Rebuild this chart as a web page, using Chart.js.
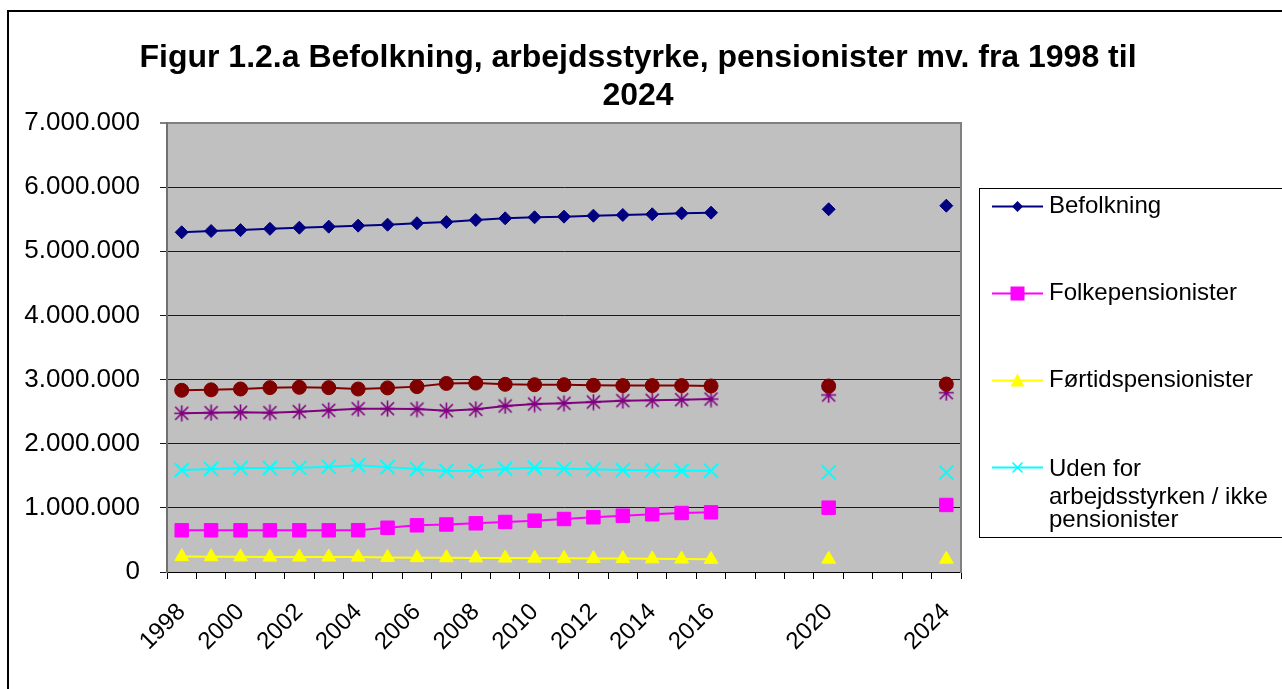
<!DOCTYPE html>
<html>
<head>
<meta charset="utf-8">
<style>
  html, body { margin: 0; padding: 0; background: #fff; }
  #wrap { width: 1282px; height: 689px; position: relative; }
</style>
<script src="https://cdn.jsdelivr.net/npm/chart.js"></script>
</head>
<body>
<div id="wrap"><canvas id="c" width="1282" height="689"></canvas></div>
<script>
// ---- DATA ----
const years = ['1998','1999','2000','2001','2002','2003','2004','2005','2006','2007','2008','2009','2010','2011','2012','2013','2014','2015','2016','2017','2018','2019','2020','2021','2022','2023','2024'];
const shownTicks = ['1998','2000','2002','2004','2006','2008','2010','2012','2014','2016','2020','2024'];
const yTicks = [0, 1000000, 2000000, 3000000, 4000000, 5000000, 6000000, 7000000];

const befolkning = [5296000, 5316000, 5330000, 5350000, 5368000, 5384000, 5400000, 5415000, 5437000, 5455000, 5488000, 5514000, 5530000, 5540000, 5555000, 5566000, 5577000, 5592000, 5602000, null, null, null, 5655000, null, null, null, 5711000];
const folkepensionister = [650000, 650000, 650000, 650000, 650000, 650000, 652000, 690000, 728000, 741000, 759000, 780000, 800000, 826000, 853000, 878000, 900000, 920000, 930000, null, null, null, 1003000, null, null, null, 1045000];
const fortidspensionister = [240000, 238000, 236000, 233000, 234000, 234000, 233000, 228000, 224000, 222000, 220000, 218000, 216000, 213000, 211000, 209000, 205000, 202000, 198000, null, null, null, 200000, null, null, null, 200000];
const udenFor = [1590000, 1606000, 1620000, 1620000, 1625000, 1642000, 1663000, 1635000, 1606000, 1575000, 1580000, 1610000, 1626000, 1610000, 1600000, 1590000, 1585000, 1580000, 1580000, null, null, null, 1554000, null, null, null, 1550000];
const arbejdsstyrke = [2833000, 2840000, 2853000, 2874000, 2879000, 2874000, 2853000, 2870000, 2890000, 2940000, 2945000, 2926000, 2920000, 2920000, 2910000, 2906000, 2906000, 2906000, 2900000, null, null, null, 2900000, null, null, null, 2930000];
const beskaeftigede = [2474000, 2484000, 2490000, 2484000, 2500000, 2520000, 2546000, 2546000, 2540000, 2515000, 2536000, 2588000, 2619000, 2630000, 2650000, 2671000, 2676000, 2687000, 2697000, null, null, null, 2760000, null, null, null, 2795000];

const titleLines = ['Figur 1.2.a Befolkning, arbejdsstyrke, pensionister mv. fra 1998 til', '2024'];
const legendLabels = ['Befolkning', 'Folkepensionister', 'Førtidspensionister', ['Uden for', 'arbejdsstyrken / ikke', 'pensionister']];

// ---- STYLE ----
const FONT = '"Liberation Sans", Arial, Helvetica, sans-serif';

function asteriskImage(color) {
  const c = document.createElement('canvas');
  c.width = 17; c.height = 17;
  const g = c.getContext('2d');
  g.strokeStyle = color; g.lineWidth = 1.6; g.lineCap = 'butt';
  g.beginPath();
  g.moveTo(2, 2); g.lineTo(15, 15);
  g.moveTo(15, 2); g.lineTo(2, 15);
  g.moveTo(8.5, 0.5); g.lineTo(8.5, 16.5);
  g.moveTo(1, 8.5); g.lineTo(16, 8.5);
  g.stroke();
  return c;
}

function fmt(v) {
  return String(Math.round(v)).replace(/\B(?=(\d{3})+(?!\d))/g, '.');
}

const series = [
  { label: 'Befolkning', data: befolkning, color: '#000080', style: 'rectRot', r: 6.5, bw: 1 },
  { label: 'Folkepensionister', data: folkepensionister, color: '#FF00FF', style: 'rect', r: 9.5, bw: 1 },
  { label: 'Førtidspensionister', data: fortidspensionister, color: '#FFFF00', style: 'triangle', r: 8, bw: 1 },
  { label: 'Uden for arbejdsstyrken / ikke pensionister', data: udenFor, color: '#00FFFF', style: 'crossRot', r: 10, bw: 2 },
  { label: 'Arbejdsstyrke', data: arbejdsstyrke, color: '#800000', style: 'circle', r: 7, bw: 1 },
  { label: 'Beskæftigede', data: beskaeftigede, color: '#800080', style: asteriskImage('#800080'), r: 8, bw: 1 }
];

const bgPlugin = {
  id: 'bg',
  beforeDraw(chart) {
    const ctx = chart.ctx, a = chart.chartArea;
    ctx.save();
    ctx.fillStyle = '#ffffff';
    ctx.fillRect(0, 0, chart.width, chart.height);
    ctx.strokeStyle = '#000';
    ctx.lineWidth = 2;
    ctx.strokeRect(8, 11, chart.width + 20, chart.height + 20);
    ctx.fillStyle = '#C0C0C0';
    ctx.fillRect(a.left, a.top, a.right - a.left, a.bottom - a.top);
    ctx.restore();
  }
};

function legendMarker(ctx, s, x, y) {
  ctx.save();
  ctx.fillStyle = s.color; ctx.strokeStyle = s.color;
  ctx.beginPath();
  if (s.style === 'rectRot') {
    const r = 5.5;
    ctx.moveTo(x - r, y); ctx.lineTo(x, y - r); ctx.lineTo(x + r, y); ctx.lineTo(x, y + r); ctx.closePath();
    ctx.fill();
  } else if (s.style === 'rect') {
    ctx.rect(x - 7, y - 7, 14, 14); ctx.fill();
  } else if (s.style === 'triangle') {
    ctx.moveTo(x, y - 7); ctx.lineTo(x + 7, y + 6); ctx.lineTo(x - 7, y + 6); ctx.closePath(); ctx.fill();
  } else if (s.style === 'crossRot') {
    ctx.lineWidth = 1.5;
    ctx.moveTo(x - 5, y - 5); ctx.lineTo(x + 5, y + 5);
    ctx.moveTo(x + 5, y - 5); ctx.lineTo(x - 5, y + 5);
    ctx.stroke();
  }
  ctx.restore();
}

const legendPlugin = {
  id: 'customLegend',
  afterDraw(chart) {
    const ctx = chart.ctx;
    ctx.save();
    ctx.fillStyle = '#fff';
    ctx.fillRect(979, 188, 400, 350);
    ctx.strokeStyle = '#000';
    ctx.lineWidth = 1;
    ctx.strokeRect(979.5, 188.5, 400, 349);
    const rows = [206.5, 293.5, 380.5, 467.5];
    const textRows = [[206], [293], [380.5], [469, 497, 520]];
    ctx.font = '24px ' + FONT;
    ctx.textBaseline = 'middle';
    ctx.textAlign = 'left';
    for (let i = 0; i < 4; i++) {
      const s = series[i];
      const y = rows[i];
      ctx.strokeStyle = s.color;
      ctx.lineWidth = 2;
      ctx.beginPath();
      ctx.moveTo(992, y); ctx.lineTo(1043, y);
      ctx.stroke();
      legendMarker(ctx, s, 1017.5, y);
      ctx.fillStyle = '#000';
      const lab = legendLabels[i];
      const lines = Array.isArray(lab) ? lab : [lab];
      ctx.save();
      ctx.beginPath();
      ctx.rect(980, 189, 400, 348);
      ctx.clip();
      lines.forEach((t, j) => ctx.fillText(t, 1049, textRows[i][j]));
      ctx.restore();
    }
    ctx.restore();
  }
};

new Chart(document.getElementById('c'), {
  type: 'line',
  data: {
    labels: years,
    datasets: series.map(s => ({
      label: s.label,
      data: s.data,
      borderColor: s.color,
      backgroundColor: s.color,
      borderWidth: 2,
      pointStyle: s.style,
      pointRadius: s.r,
      pointBorderWidth: s.bw,
      pointBorderColor: s.color,
      pointBackgroundColor: s.color,
      spanGaps: false,
      tension: 0,
      fill: false
    }))
  },
  options: {
    responsive: false,
    animation: false,
    events: [],
    devicePixelRatio: 1,
    layout: { padding: { left: 0, right: 6, top: 0, bottom: 0 } },
    plugins: {
      legend: { display: false },
      tooltip: { enabled: false },
      title: {
        display: true,
        text: titleLines,
        color: '#000',
        font: { family: FONT, size: 32, weight: 'bold', lineHeight: '38px' },
        padding: { top: 39, bottom: 8 }
      }
    },
    scales: {
      x: {
        type: 'category',
        offset: true,
        grid: {
          offset: true,
          drawOnChartArea: false,
          drawTicks: true,
          tickLength: 7,
          color: '#000',
          lineWidth: 1
        },
        border: { display: true, color: '#000', width: 1 },
        ticks: {
          autoSkip: false,
          minRotation: 45,
          maxRotation: 45,
          padding: 19,
          color: '#000',
          font: { family: FONT, size: 24 },
          callback: function (val, idx) {
            const y = years[idx];
            return shownTicks.includes(y) ? y : '';
          }
        },
        afterFit: s => { s.height = 117; }
      },
      y: {
        type: 'linear',
        position: 'left',
        min: yTicks[0],
        max: yTicks[yTicks.length - 1],
        afterBuildTicks: s => { s.ticks = yTicks.map(v => ({ value: v })); },
        grid: {
          drawOnChartArea: true,
          drawTicks: true,
          tickLength: 7,
          color: ctx => (ctx.tick && ctx.tick.value === 7000000) ? '#808080' : '#1a1a1a',
          lineWidth: ctx => (ctx.tick && ctx.tick.value === 7000000) ? 2 : 1
        },
        border: { display: true, color: '#707070', width: 2 },
        ticks: {
          padding: 20,
          color: '#000',
          font: { family: FONT, size: 26 },
          callback: v => fmt(v)
        },
        afterFit: s => { s.width = 167; }
      },
      y2: {
        type: 'linear',
        position: 'right',
        display: true,
        grid: { display: false, drawTicks: false },
        border: { display: true, color: '#808080', width: 2 },
        ticks: { display: false },
        afterFit: s => { s.width = 315; }
      }
    }
  },
  plugins: [bgPlugin, legendPlugin]
});
</script>
</body>
</html>
